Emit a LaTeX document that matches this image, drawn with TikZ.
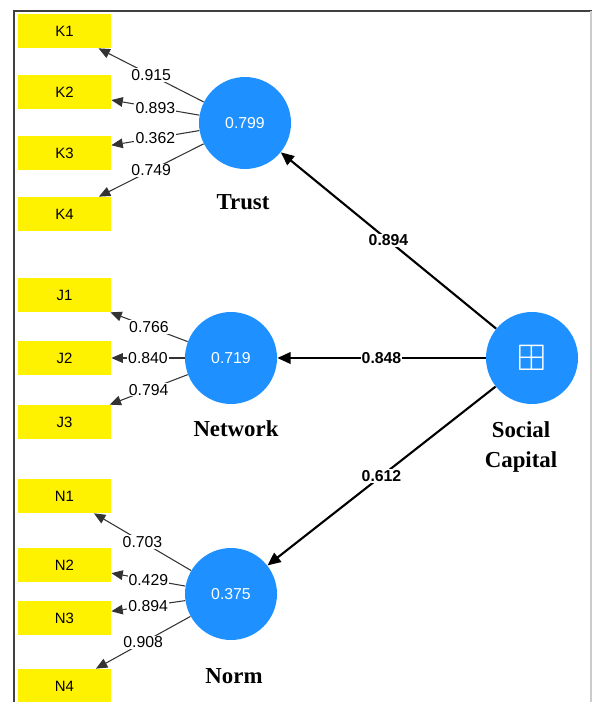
\documentclass[tikz,border=0pt]{standalone}
\usepackage{amssymb}
\usepackage{fontspec}
\setmainfont{Liberation Serif}
\setsansfont{Liberation Sans}
\usetikzlibrary{arrows.meta}
\definecolor{lvblue}{HTML}{1E90FF}
\begin{document}
\begin{tikzpicture}[x=0.02cm,y=-0.02cm,
        ind/.style={fill=yellow,minimum width=1.86cm,minimum height=0.68cm,inner sep=0pt,font=\sffamily\fontsize{8.5}{10}\selectfont},
        lv/.style={circle,fill=lvblue,minimum size=1.84cm,inner sep=0pt,text=white,font=\sffamily\fontsize{9}{10}\selectfont},
        lvname/.style={font=\bfseries\fontsize{13}{17}\selectfont,align=center},
        loading/.style={draw=black!80,line width=0.6pt,-{Triangle[length=6.5pt,width=5.5pt]}},
        struct/.style={draw=black,line width=1.2pt,-{Triangle[length=7.5pt,width=6.5pt]}},
        val/.style={fill=white,inner sep=0.6pt,font=\sffamily\fontsize{9}{10}\selectfont},
        sval/.style={val,font=\sffamily\bfseries\fontsize{9}{10}\selectfont}]
        \clip (0,0) rectangle (592,702);
        \draw[black!75,line width=1.1pt] (14,702) -- (14,11) -- (592,11);
        \draw[black!20,line width=0.8pt] (591,11) -- (591,702);

        \foreach \ind/\yy in {K1/31,K2/92,K3/153,K4/214,J1/295,J2/358,J3/422,N1/496,N2/565,N3/618,N4/686}
            \node[ind] (\ind) at (64.5,\yy) {\ind};

        \node[lv] (trust) at (245,123) {0.799};
        \node[lv] (network) at (231,358) {0.719};
        \node[lv] (norm) at (231,594) {0.375};
        \node[lv,font=\fontsize{21}{21}\selectfont] (sc) at (532,358) {$\boxplus$};

        \node[lvname] (trustname) at (243,202) {Trust};
        \node[lvname] (networkname) at (236,429) {Network};
        \node[lvname] (normname) at (234,676) {Norm};
        \node[lvname] (scname) at (521,447) {Social\\Capital};

        \foreach \lv/\ind/\w in {trust/K1/0.915,trust/K2/0.893,trust/K3/0.362,trust/K4/0.749,
                network/J1/0.766,network/J2/0.840,network/J3/0.794,
                norm/N1/0.703,norm/N2/0.429,norm/N3/0.894,norm/N4/0.908}
            \draw[loading] (\lv) -- node[val] {\w} (\ind);

        \draw[struct] (sc) -- node[sval] {0.894} (trust);
        \draw[struct] (sc) -- node[sval] {0.848} (network);
        \draw[struct] (sc) -- node[sval] {0.612} (norm);
\end{tikzpicture}
\end{document}
